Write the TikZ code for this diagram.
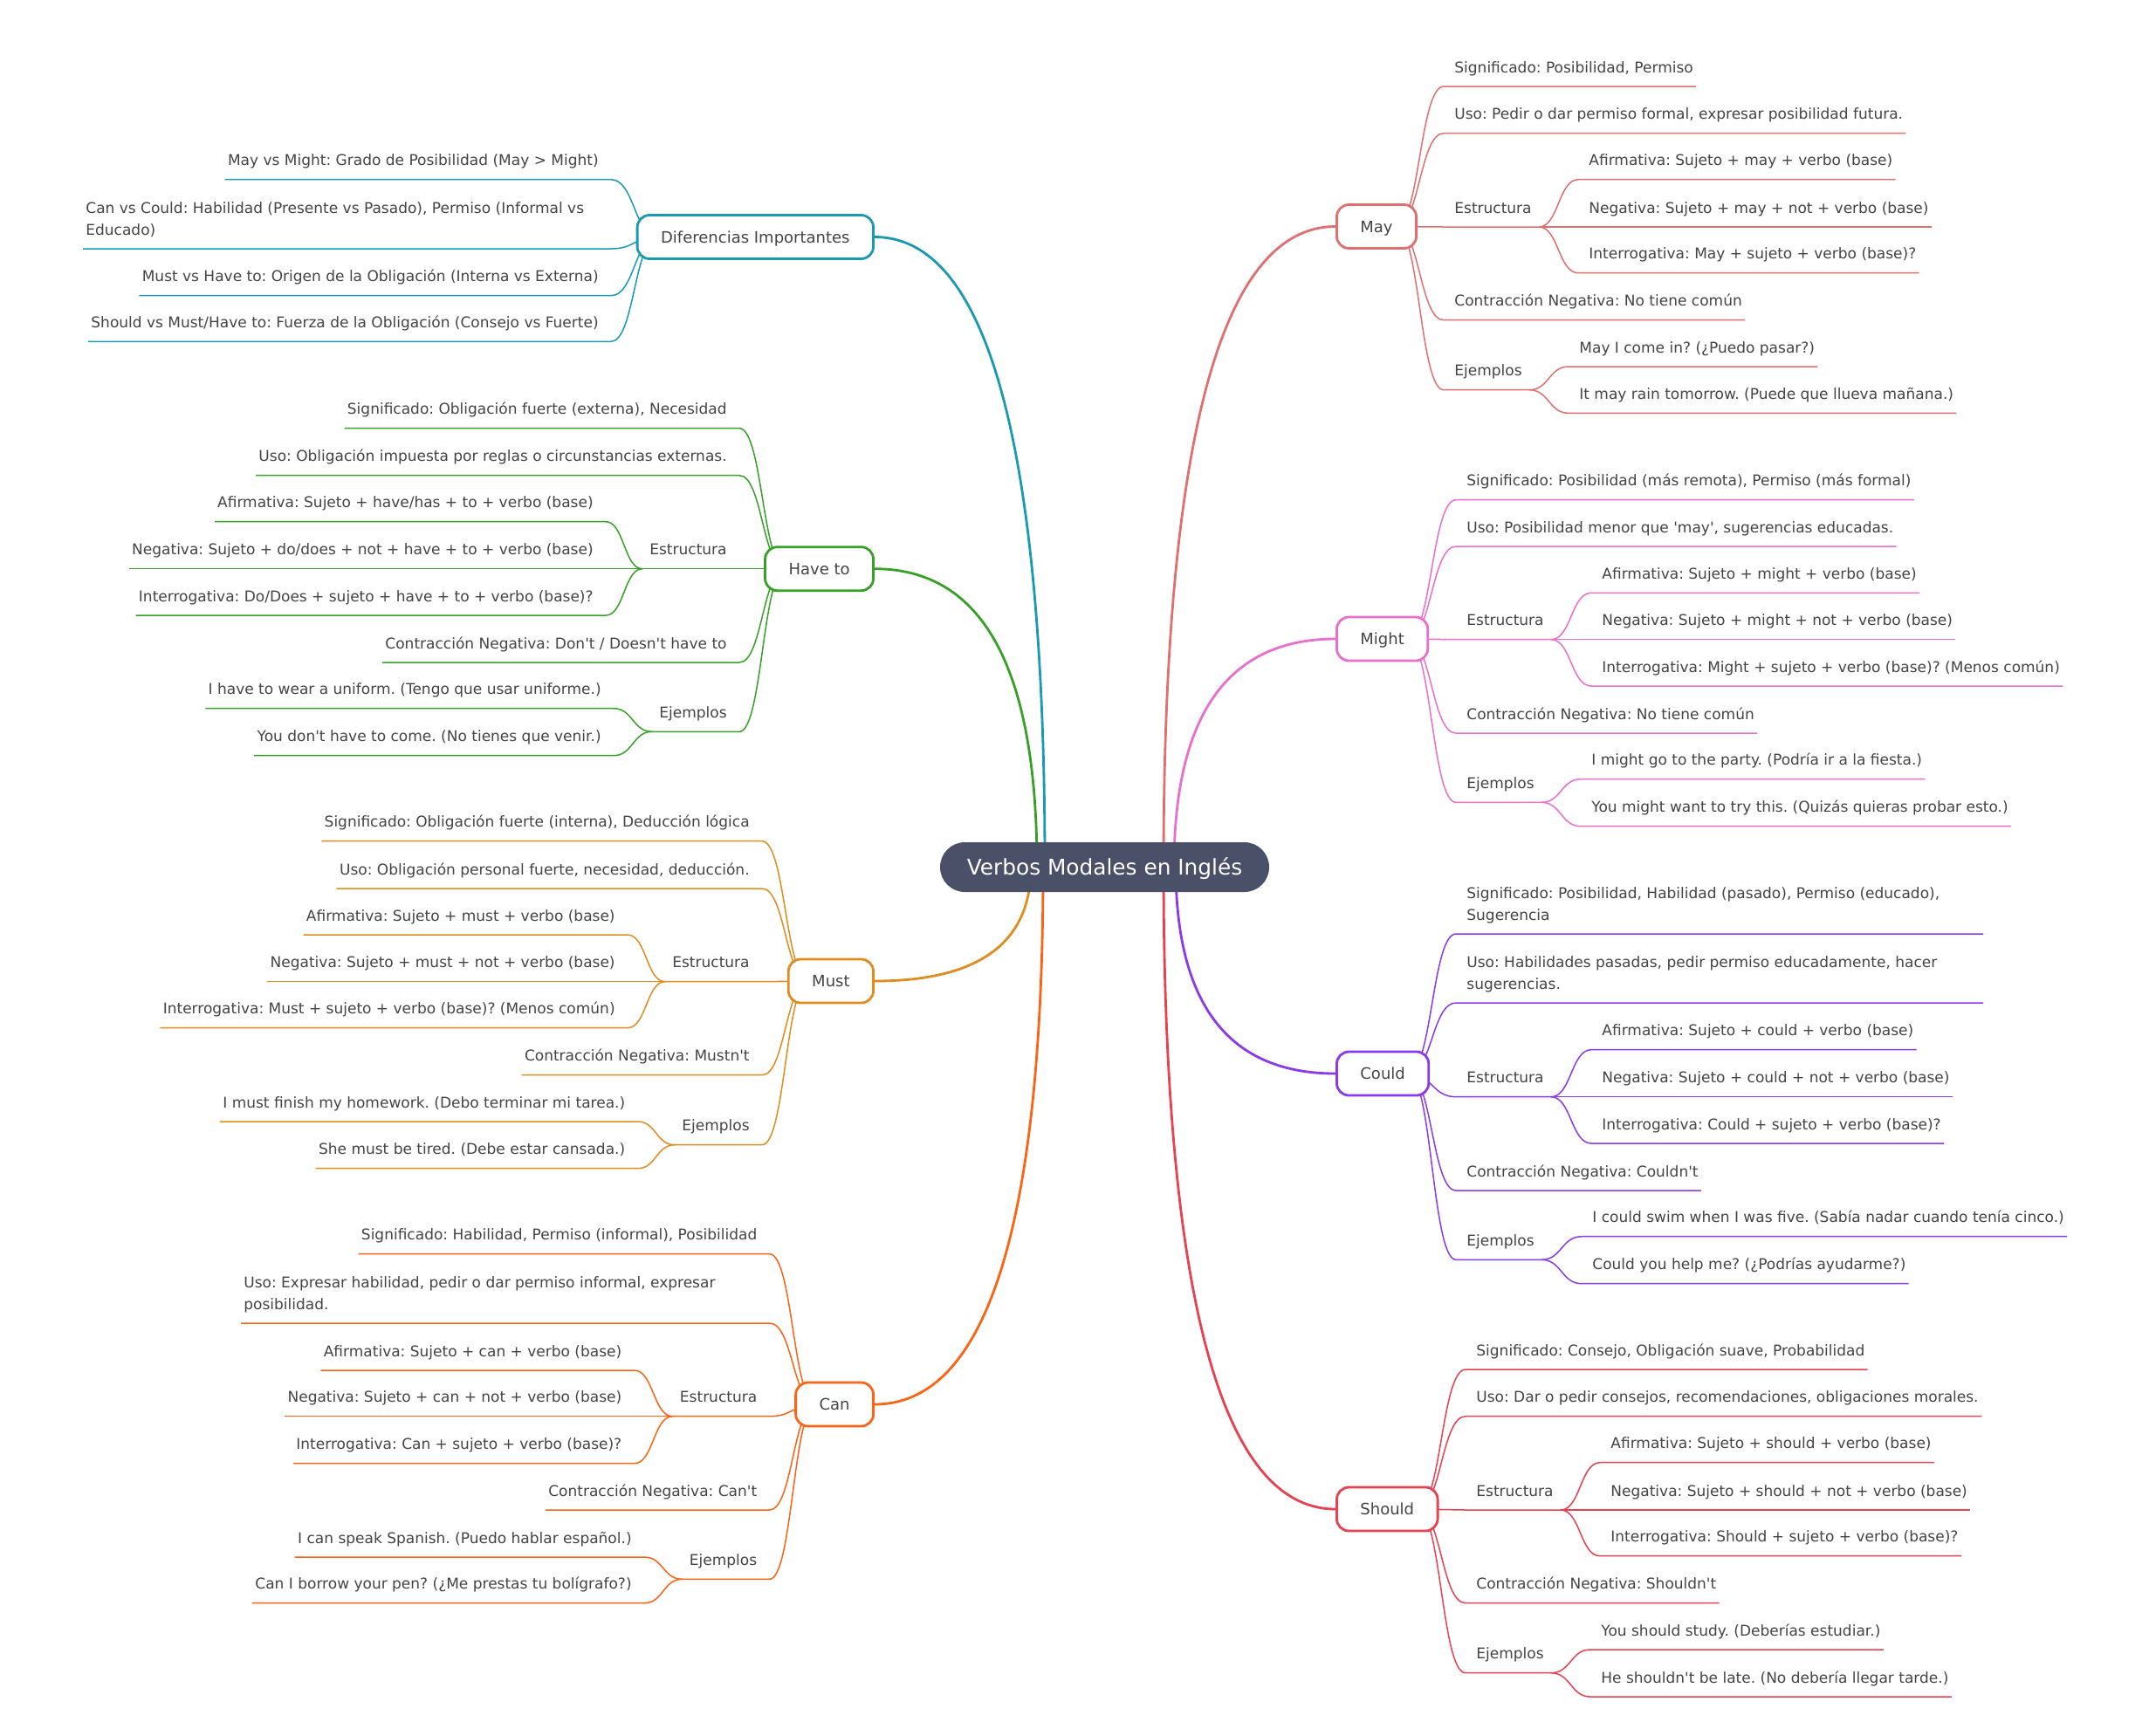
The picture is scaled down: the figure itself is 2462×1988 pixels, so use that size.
\documentclass[tikz,border=0pt]{standalone}
\usepackage{fontspec}
\newfontfamily\dv{DejaVu Sans}
\usetikzlibrary{calc}
\definecolor{txt}{HTML}{444444}
\definecolor{rootc}{HTML}{4B5069}
\definecolor{cMay}{HTML}{E07070}
\definecolor{cMight}{HTML}{E870CC}
\definecolor{cCould}{HTML}{8A3AE8}
\definecolor{cShould}{HTML}{E64252}
\definecolor{cDif}{HTML}{1A9AB0}
\definecolor{cHave}{HTML}{38A028}
\definecolor{cMust}{HTML}{E08C1E}
\definecolor{cCan}{HTML}{FA6414}
\pgfdeclarelayer{bgfill}
\pgfdeclarelayer{links}
\pgfsetlayers{bgfill,links,main}
\tikzset{
  leaftxt/.style={inner sep=0pt, font=\dv\fontsize{8.5}{12.5}\selectfont, text=txt},
  leafline/.style={line width=0.75pt},
  mainlink/.style={line width=1.4pt},
  branchbox/.style={draw=#1, line width=1.4pt, fill=white, rounded corners=7pt,
    minimum height=25pt, inner xsep=13.5pt, inner ysep=0pt, text height=6.6pt,
    text depth=0pt, font=\dv\fontsize{9}{11}\selectfont, text=txt},
  rootbox/.style={fill=rootc, text=white, rounded corners=14.2pt, minimum width=188.5pt,
    minimum height=28.5pt, inner sep=0pt, text height=9pt, text depth=0pt,
    font=\dv\fontsize{12.4}{15}\selectfont}
}
% right leaf: [pad]{colour}{source}{name}{text-left x}{underline y}{text}
\newcommand{\RL}[7][1.5pt]{%
  \node[leaftxt, anchor=base west] (#4) at (#5,#6-16) {#7};
  \begin{pgfonlayer}{links}
  \draw[#2, leafline] let \p1=(#3), \p2=(#5-12,#6), \p3=(#4.east) in
    (\p1) .. controls ({(\x1+\x2)/2},\y1) and ({(\x1+\x2)/2},\y2) .. (\p2)
    -- (\x3+#1,\y2) coordinate (#4-e);
  \end{pgfonlayer}}
% right wrapped leaf: {colour}{source}{name}{text-left x}{underline y}{end x}{line1}{line2}
\newcommand{\RLW}[8]{%
  \node[leaftxt, anchor=base west] (#3) at (#4,#5-16) {\begin{tabular}[b]{@{}l@{}}#7\\#8\end{tabular}};
  \begin{pgfonlayer}{links}
  \draw[#1, leafline] let \p1=(#2), \p2=(#4-12,#5) in
    (\p1) .. controls ({(\x1+\x2)/2},\y1) and ({(\x1+\x2)/2},\y2) .. (\p2) -- (#6,#5);
  \end{pgfonlayer}}
% left leaf: [pad]{colour}{source}{name}{text-right x}{underline y}{text}
\newcommand{\LL}[7][1.5pt]{%
  \node[leaftxt, anchor=base east] (#4) at (#5,#6-16) {#7};
  \begin{pgfonlayer}{links}
  \draw[#2, leafline] let \p1=(#3), \p2=(#5+14,#6), \p3=(#4.west) in
    (\p1) .. controls ({(\x1+\x2)/2},\y1) and ({(\x1+\x2)/2},\y2) .. (\p2)
    -- (\x3-#1,\y2) coordinate (#4-e);
  \end{pgfonlayer}}
% left wrapped leaf: {colour}{source}{name}{text-left x}{underline y}{column right x}{line1}{line2}
\newcommand{\LLW}[8]{%
  \node[leaftxt, anchor=base west] (#3) at (#4,#5-16) {\begin{tabular}[b]{@{}l@{}}#7\\#8\end{tabular}};
  \begin{pgfonlayer}{links}
  \draw[#1, leafline] let \p1=(#2), \p2=(#6+14,#5) in
    (\p1) .. controls ({(\x1+\x2)/2},\y1) and ({(\x1+\x2)/2},\y2) .. (\p2) -- (#4-3,#5);
  \end{pgfonlayer}}
% main link: {colour}{start}{end}
\newcommand{\ML}[3]{%
  \begin{pgfonlayer}{links}
  \draw[#1, mainlink] let \p1=(#2), \p2=(#3) in
    (\p1) .. controls (\x1,{\y1+2/3*(\y2-\y1)}) and ({\x2+2/3*(\x1-\x2)},\y2) .. (\p2);
  \end{pgfonlayer}}

\begin{document}
\frenchspacing
\begin{tikzpicture}[x=0.5pt,y=-0.5pt]
\begin{pgfonlayer}{bgfill}
\fill[white] (0,0) rectangle (2462,1988);
\end{pgfonlayer}
\useasboundingbox (0,0) rectangle (2462,1988);

% root and branch nodes
\node[rootbox] (root) at (1265.5,993.5) {Verbos Modales en Inglés};
\node[branchbox=cMay, anchor=west] (may) at (1530,259.5) {May};
\node[branchbox=cMight, anchor=west] (might) at (1530,732) {Might};
\node[branchbox=cCould, anchor=west] (could) at (1530,1230) {Could};
\node[branchbox=cShould, anchor=west] (should) at (1530,1729) {Should};
\node[branchbox=cDif, anchor=east] (dif) at (1002,271.5) {Diferencias Importantes};
\node[branchbox=cHave, anchor=east] (have) at (1002,651.7) {Have to};
\node[branchbox=cMust, anchor=east] (must) at (1002,1124) {Must};
\node[branchbox=cCan, anchor=east] (can) at (1002,1609) {Can};

% link start points
\coordinate (rs-may) at (1333,993.5);
\coordinate (rs-might) at (1345,993.5);
\coordinate (rs-could) at (1347,993.5);
\coordinate (rs-should) at (1333,993.5);
\coordinate (rs-dif) at (1197,993.5);
\coordinate (rs-have) at (1188,993.5);
\coordinate (rs-must) at (1181,993.5);
\coordinate (rs-can) at (1195,993.5);
\coordinate (may-s) at ([xshift=-12.5pt]may.east);
\coordinate (might-s) at ([xshift=-12.5pt]might.east);
\coordinate (could-s) at ([xshift=-12.5pt]could.east);
\coordinate (should-s) at ([xshift=-12.5pt]should.east);
\coordinate (dif-s) at ([xshift=12.5pt]dif.west);
\coordinate (have-s) at ([xshift=12.5pt]have.west);
\coordinate (must-s) at ([xshift=12.5pt]must.west);
\coordinate (can-s) at ([xshift=12.5pt]can.west);

% main links
\ML{cMay}{rs-may}{may.west}
\ML{cMight}{rs-might}{might.west}
\ML{cCould}{rs-could}{could.west}
\ML{cShould}{rs-should}{should.west}
\ML{cDif}{rs-dif}{dif.east}
\ML{cHave}{rs-have}{have.east}
\ML{cMust}{rs-must}{must.east}
\ML{cCan}{rs-can}{can.east}

% ---- May
\RL{cMay}{may-s}{may1}{1666}{99}{Significado: Posibilidad, Permiso}
\RL{cMay}{may-s}{may2}{1666}{152.7}{Uso: Pedir o dar permiso formal, expresar posibilidad futura.}
\RL[4pt]{cMay}{may-s}{may3}{1666}{260}{Estructura}
\RL{cMay}{may3-e}{may31}{1820}{205.7}{Afirmativa: Sujeto + may + verbo (base)}
\RL{cMay}{may3-e}{may32}{1820}{260}{Negativa: Sujeto + may + not + verbo (base)}
\RL{cMay}{may3-e}{may33}{1820}{312.7}{Interrogativa: May + sujeto + verbo (base)?}
\RL{cMay}{may-s}{may4}{1666}{366.7}{Contracción Negativa: No tiene común}
\RL[4pt]{cMay}{may-s}{may5}{1666}{446.7}{Ejemplos}
\RL{cMay}{may5-e}{may51}{1809}{420}{May I come in? (¿Puedo pasar?)}
\RL{cMay}{may5-e}{may52}{1809}{473.3}{It may rain tomorrow. (Puede que llueva mañana.)}

% ---- Might
\RL{cMight}{might-s}{mi1}{1680}{572.7}{Significado: Posibilidad (más remota), Permiso (más formal)}
\RL{cMight}{might-s}{mi2}{1680}{626}{Uso: Posibilidad menor que 'may', sugerencias educadas.}
\RL[4pt]{cMight}{might-s}{mi3}{1680}{732.7}{Estructura}
\RL{cMight}{mi3-e}{mi31}{1835}{679.3}{Afirmativa: Sujeto + might + verbo (base)}
\RL{cMight}{mi3-e}{mi32}{1835}{732.7}{Negativa: Sujeto + might + not + verbo (base)}
\RL{cMight}{mi3-e}{mi33}{1835}{786}{Interrogativa: Might + sujeto + verbo (base)? (Menos común)}
\RL{cMight}{might-s}{mi4}{1680}{840}{Contracción Negativa: No tiene común}
\RL[4pt]{cMight}{might-s}{mi5}{1680}{919.3}{Ejemplos}
\RL{cMight}{mi5-e}{mi51}{1823}{892.7}{I might go to the party. (Podría ir a la fiesta.)}
\RL{cMight}{mi5-e}{mi52}{1823}{946.7}{You might want to try this. (Quizás quieras probar esto.)}

% ---- Could
\RLW{cCould}{could-s}{co1}{1680}{1070}{2272}{Significado: Posibilidad, Habilidad (pasado), Permiso (educado),}{Sugerencia}
\RLW{cCould}{could-s}{co2}{1680}{1149}{2272}{Uso: Habilidades pasadas, pedir permiso educadamente, hacer}{sugerencias.}
\RL[4pt]{cCould}{could-s}{co3}{1680}{1256.7}{Estructura}
\RL{cCould}{co3-e}{co31}{1835}{1202.7}{Afirmativa: Sujeto + could + verbo (base)}
\RL{cCould}{co3-e}{co32}{1835}{1256.7}{Negativa: Sujeto + could + not + verbo (base)}
\RL{cCould}{co3-e}{co33}{1835}{1310}{Interrogativa: Could + sujeto + verbo (base)?}
\RL{cCould}{could-s}{co4}{1680}{1364}{Contracción Negativa: Couldn't}
\RL[4pt]{cCould}{could-s}{co5}{1680}{1443.3}{Ejemplos}
\RL{cCould}{co5-e}{co51}{1824}{1416.7}{I could swim when I was five. (Sabía nadar cuando tenía cinco.)}
\RL{cCould}{co5-e}{co52}{1824}{1470.7}{Could you help me? (¿Podrías ayudarme?)}

% ---- Should
\RL{cShould}{should-s}{sh1}{1691}{1569}{Significado: Consejo, Obligación suave, Probabilidad}
\RL{cShould}{should-s}{sh2}{1691}{1622.7}{Uso: Dar o pedir consejos, recomendaciones, obligaciones morales.}
\RL[4pt]{cShould}{should-s}{sh3}{1691}{1730}{Estructura}
\RL{cShould}{sh3-e}{sh31}{1845}{1675.7}{Afirmativa: Sujeto + should + verbo (base)}
\RL{cShould}{sh3-e}{sh32}{1845}{1730}{Negativa: Sujeto + should + not + verbo (base)}
\RL{cShould}{sh3-e}{sh33}{1845}{1782.7}{Interrogativa: Should + sujeto + verbo (base)?}
\RL{cShould}{should-s}{sh4}{1691}{1836.7}{Contracción Negativa: Shouldn't}
\RL[4pt]{cShould}{should-s}{sh5}{1691}{1916.7}{Ejemplos}
\RL{cShould}{sh5-e}{sh51}{1834}{1890}{You should study. (Deberías estudiar.)}
\RL{cShould}{sh5-e}{sh52}{1834}{1944}{He shouldn't be late. (No debería llegar tarde.)}

% ---- Diferencias Importantes
\LL{cDif}{dif-s}{d1}{686}{205.7}{May vs Might: Grado de Posibilidad (May > Might)}
\LLW{cDif}{dif-s}{d2}{98}{285}{686}{Can vs Could: Habilidad (Presente vs Pasado), Permiso (Informal vs}{Educado)}
\LL{cDif}{dif-s}{d3}{686}{338.7}{Must vs Have to: Origen de la Obligación (Interna vs Externa)}
\LL{cDif}{dif-s}{d4}{686}{391.3}{Should vs Must/Have to: Fuerza de la Obligación (Consejo vs Fuerte)}

% ---- Have to
\LL{cHave}{have-s}{h1}{833}{490.7}{Significado: Obligación fuerte (externa), Necesidad}
\LL{cHave}{have-s}{h2}{833}{544.7}{Uso: Obligación impuesta por reglas o circunstancias externas.}
\LL[4pt]{cHave}{have-s}{h3}{833}{651.7}{Estructura}
\LL{cHave}{h3-e}{h31}{680}{597.7}{Afirmativa: Sujeto + have/has + to + verbo (base)}
\LL{cHave}{h3-e}{h32}{680}{651.7}{Negativa: Sujeto + do/does + not + have + to + verbo (base)}
\LL{cHave}{h3-e}{h33}{680}{705}{Interrogativa: Do/Does + sujeto + have + to + verbo (base)?}
\LL{cHave}{have-s}{h4}{833}{759}{Contracción Negativa: Don't / Doesn't have to}
\LL[4pt]{cHave}{have-s}{h5}{833}{838.3}{Ejemplos}
\LL{cHave}{h5-e}{h51}{689}{811.7}{I have to wear a uniform. (Tengo que usar uniforme.)}
\LL{cHave}{h5-e}{h52}{689}{865.7}{You don't have to come. (No tienes que venir.)}

% ---- Must
\LL{cMust}{must-s}{m1}{859}{963.7}{Significado: Obligación fuerte (interna), Deducción lógica}
\LL{cMust}{must-s}{m2}{859}{1018}{Uso: Obligación personal fuerte, necesidad, deducción.}
\LL[4pt]{cMust}{must-s}{m3}{859}{1124.7}{Estructura}
\LL{cMust}{m3-e}{m31}{705}{1071}{Afirmativa: Sujeto + must + verbo (base)}
\LL{cMust}{m3-e}{m32}{705}{1124.7}{Negativa: Sujeto + must + not + verbo (base)}
\LL{cMust}{m3-e}{m33}{705}{1177.7}{Interrogativa: Must + sujeto + verbo (base)? (Menos común)}
\LL{cMust}{must-s}{m4}{859}{1231.7}{Contracción Negativa: Mustn't}
\LL[4pt]{cMust}{must-s}{m5}{859}{1311.7}{Ejemplos}
\LL{cMust}{m5-e}{m51}{716.6}{1285}{I must finish my homework. (Debo terminar mi tarea.)}
\LL{cMust}{m5-e}{m52}{716.6}{1338.7}{She must be tired. (Debe estar cansada.)}

% ---- Can
\LL{cCan}{can-s}{c1}{867.6}{1436.7}{Significado: Habilidad, Permiso (informal), Posibilidad}
\LLW{cCan}{can-s}{c2}{279}{1516}{867.6}{Uso: Expresar habilidad, pedir o dar permiso informal, expresar}{posibilidad.}
\LL[4pt]{cCan}{can-s}{c3}{867.6}{1622.7}{Estructura}
\LL{cCan}{c3-e}{c31}{712.6}{1570}{Afirmativa: Sujeto + can + verbo (base)}
\LL{cCan}{c3-e}{c32}{712.6}{1622.7}{Negativa: Sujeto + can + not + verbo (base)}
\LL{cCan}{c3-e}{c33}{712.6}{1676.7}{Interrogativa: Can + sujeto + verbo (base)?}
\LL{cCan}{can-s}{c4}{867.6}{1730}{Contracción Negativa: Can't}
\LL[4pt]{cCan}{can-s}{c5}{867.6}{1809.3}{Ejemplos}
\LL{cCan}{c5-e}{c51}{724}{1784}{I can speak Spanish. (Puedo hablar español.)}
\LL{cCan}{c5-e}{c52}{724}{1836.7}{Can I borrow your pen? (¿Me prestas tu bolígrafo?)}
\end{tikzpicture}
\end{document}
